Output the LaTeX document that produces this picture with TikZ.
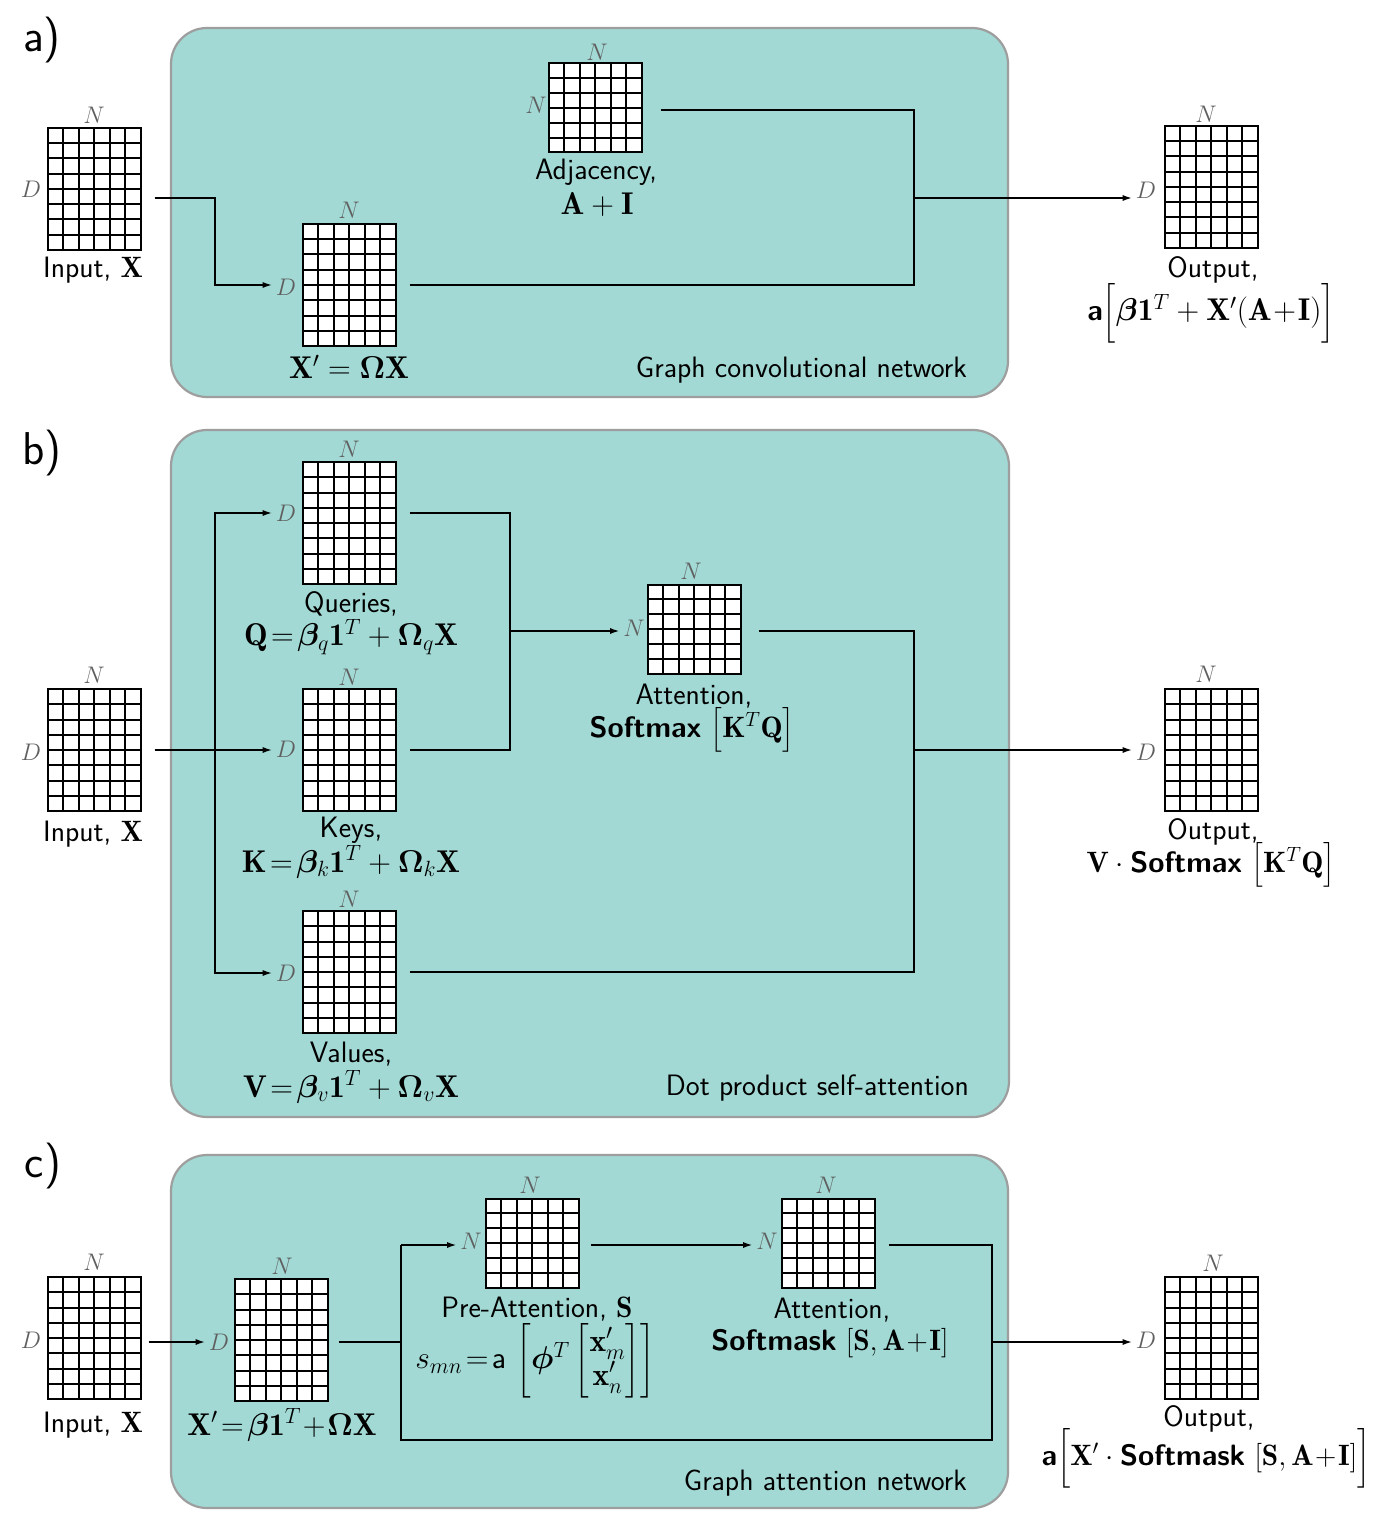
\RequirePackage{fix-cm}
\documentclass[tikz,border=0pt]{standalone}
\usepackage{amsmath}
\usepackage{bm}
\usepackage{fontspec}
\usetikzlibrary{calc,arrows.meta}
\definecolor{panelfill}{RGB}{162,217,212}
\definecolor{panelline}{RGB}{158,158,158}
\definecolor{dimgray}{RGB}{95,95,95}
\tikzset{
  panel/.style={draw=panelline, fill=panelfill, line width=2.2pt, rounded corners=36pt, inner sep=0pt},
  gridbase/.style={draw=black, line width=2pt, fill=white, inner sep=0pt, minimum width=93pt},
  matDN/.style={gridbase, minimum height=122pt, path picture={
     \foreach \k in {1,...,5}{\draw[line width=2pt] ($(path picture bounding box.south west)!\k/6!(path picture bounding box.south east)$) -- ($(path picture bounding box.north west)!\k/6!(path picture bounding box.north east)$);}
     \foreach \k in {1,...,7}{\draw[line width=2pt] ($(path picture bounding box.south west)!\k/8!(path picture bounding box.north west)$) -- ($(path picture bounding box.south east)!\k/8!(path picture bounding box.north east)$);}
  }},
  matNN/.style={gridbase, minimum height=89pt, path picture={
     \foreach \k in {1,...,5}{\draw[line width=2pt] ($(path picture bounding box.south west)!\k/6!(path picture bounding box.south east)$) -- ($(path picture bounding box.north west)!\k/6!(path picture bounding box.north east)$);}
     \foreach \k in {1,...,5}{\draw[line width=2pt] ($(path picture bounding box.south west)!\k/6!(path picture bounding box.north west)$) -- ($(path picture bounding box.south east)!\k/6!(path picture bounding box.north east)$);}
  }},
  dlab/.style={font=\fontsize{24}{28}\selectfont, text=dimgray, inner sep=3pt},
  txt/.style={font=\sffamily\fontsize{29.5}{34}\selectfont, inner sep=0pt},
  fml/.style={font=\sffamily\fontsize{31.5}{36}\selectfont, inner sep=0pt},
  smx/.style={font=\sffamily\fontsize{29.5}{41}\selectfont, inner sep=0pt},
  conn/.style={line width=2.2pt},
  arr/.style={conn, -{Latex[length=10pt,width=6pt]}},
  plab/.style={font=\sffamily\fontsize{46}{50}\selectfont, inner sep=0pt}
}
\newcommand{\swd}[1]{\text{\fontsize{29.5}{34}\selectfont\sffamily\bfseries #1}}
\begin{document}
\begin{tikzpicture}[x=1pt,y=-1pt]
\useasboundingbox (0,0) rectangle (1384,1530);
\fill[white] (0,0) rectangle (1384,1530);

% ---------------- panels
\node[panel, minimum width=837pt, minimum height=369pt] (pa) at (589.5,212.5) {};
\node[panel, minimum width=838pt, minimum height=687pt] (pb) at (590,773.5) {};
\node[panel, minimum width=837pt, minimum height=353pt] (pc) at (589.5,1331.5) {};
\node[plab] (la) at (42,40) {a)};
\node[plab] (lb) at (42,453) {b)};
\node[plab] (lc) at (43,1166) {c)};
\node[txt, anchor=east] (ta) at (967,370) {Graph convolutional network};
\node[txt, anchor=east] (tb) at (969,1088) {Dot product self-attention};
\node[txt, anchor=east] (tc) at (967,1483) {Graph attention network};

% ---------------- panel a
\node[matDN] (inA) at (94,189) {};
\node[dlab] (inA-N) at (94,115) {$N$};
\node[dlab] (inA-D) at (31,189) {$D$};
\node[txt] (inA-t) at (93,270) {Input, $\mathbf{X}$};

\node[matDN] (xA) at (349,285) {};
\node[dlab] (xA-N) at (349,210) {$N$};
\node[dlab] (xA-D) at (286,287) {$D$};
\node[fml] (xA-t) at (349,367) {$\mathbf{X}'=\boldsymbol{\Omega}\mathbf{X}$};

\node[matNN] (adjA) at (595,108) {};
\node[dlab] (adjA-N) at (597,52) {$N$};
\node[dlab] (adjA-L) at (536,105) {$N$};
\node[txt] (adjA-t) at (596,172) {Adjacency,};
\node[fml] (adjA-f) at (597,205) {$\mathbf{A}+\mathbf{I}$};

\node[matDN] (outA) at (1211,187) {};
\node[dlab] (outA-N) at (1206,114) {$N$};
\node[dlab] (outA-D) at (1146,190) {$D$};
\node[txt] (outA-t) at (1213,270) {Output,};
\node[font=\sffamily\fontsize{31.5}{39}\selectfont, inner sep=0pt] (outA-f) at (1211,313) {$\swd{a}\Big[\boldsymbol{\beta}\mathbf{1}^T+\mathbf{X}'(\mathbf{A}\!+\!\mathbf{I})\Big]$};

\coordinate (ja) at (215,198);
\coordinate (jt) at (914,110);
\coordinate (jb) at (914,198);
\draw[arr] ($(inA.east|-ja)+(13,0)$) -- (ja) |- (xA-D.west|-xA);
\draw[conn] ($(adjA.east|-jt)+(18,0)$) -- (jt) -- (jb);
\draw[conn] ($(xA.east)+(13,0)$) -| (jb);
\draw[arr] (jb) -- (outA-D.west|-jb);

% ---------------- panel b
\node[matDN] (inB) at (94,750) {};
\node[dlab] (inB-N) at (94,675) {$N$};
\node[dlab] (inB-D) at (31,752) {$D$};
\node[txt] (inB-t) at (93,834) {Input, $\mathbf{X}$};

\node[matDN] (qB) at (349,523) {};
\node[dlab] (qB-N) at (349,449) {$N$};
\node[dlab] (qB-D) at (286,513) {$D$};
\node[txt] (qB-t) at (351,604) {Queries,};
\node[fml] (qB-f) at (351,637) {$\mathbf{Q}\!=\!\boldsymbol{\beta}_q\mathbf{1}^T+\boldsymbol{\Omega}_q\mathbf{X}$};

\node[matDN] (kB) at (349,750) {};
\node[dlab] (kB-N) at (349,677) {$N$};
\node[dlab] (kB-D) at (286,749) {$D$};
\node[txt] (kB-t) at (351,830) {Keys,};
\node[fml] (kB-f) at (351,862) {$\mathbf{K}\!=\!\boldsymbol{\beta}_k\mathbf{1}^T+\boldsymbol{\Omega}_k\mathbf{X}$};

\node[matDN] (vB) at (349,972) {};
\node[dlab] (vB-N) at (349,899) {$N$};
\node[dlab] (vB-D) at (286,973) {$D$};
\node[txt] (vB-t) at (351,1054) {Values,};
\node[fml] (vB-f) at (351,1087) {$\mathbf{V}\!=\!\boldsymbol{\beta}_v\mathbf{1}^T+\boldsymbol{\Omega}_v\mathbf{X}$};

\node[matNN] (attB) at (694,629) {};
\node[dlab] (attB-N) at (691,571) {$N$};
\node[dlab] (attB-L) at (634,628) {$N$};
\node[txt] (attB-t) at (694,696) {Attention,};
\node[smx] (attB-f) at (692,730) {\textbf{Softmax} $\big[\mathbf{K}^T\mathbf{Q}\big]$};

\node[matDN] (outB) at (1211,750) {};
\node[dlab] (outB-N) at (1206,674) {$N$};
\node[dlab] (outB-D) at (1146,752) {$D$};
\node[txt] (outB-t) at (1213,832) {Output,};
\node[smx] (outB-f) at (1211,865) {$\mathbf{V}\cdot{}$\textbf{Softmax} $\big[\mathbf{K}^T\mathbf{Q}\big]$};

\coordinate (bj) at (215,750);
\coordinate (bq) at (510,513);
\coordinate (bk) at (510,750);
\coordinate (bm) at (510,631);
\coordinate (bo) at (914,750);
\draw[arr] ($(inB.east|-bj)+(13,0)$) -- (kB-D.west|-bj);
\draw[arr] (bj) |- (qB-D.west|-bq);
\draw[arr] (bj) |- (vB-D.west);
\draw[conn] ($(qB.east|-bq)+(13,0)$) -- (bq) -- (bk) -- ($(kB.east|-bk)+(13,0)$);
\draw[arr] (bm) -- (attB-L.west|-bm);
\draw[conn] ($(attB.east|-bm)+(17,0)$) -| (bo);
\draw[conn] ($(vB.east)+(13,0)$) -| (bo);
\draw[arr] (bo) -- (outB-D.west|-bo);

% ---------------- panel c
\node[matDN] (inC) at (94,1338) {};
\node[dlab] (inC-N) at (94,1262) {$N$};
\node[dlab] (inC-D) at (31,1340) {$D$};
\node[txt] (inC-t) at (93,1425) {Input, $\mathbf{X}$};

\node[matDN] (xC) at (281,1340) {};
\node[dlab] (xC-N) at (282,1266) {$N$};
\node[dlab] (xC-D) at (219,1342) {$D$};
\node[fml] (xC-t) at (282,1425) {$\mathbf{X}'\!=\!\boldsymbol{\beta}\mathbf{1}^T\!+\!\boldsymbol{\Omega}\mathbf{X}$};

\node[matNN] (preC) at (532,1243) {};
\node[dlab] (preC-N) at (530,1185) {$N$};
\node[dlab] (preC-L) at (471,1241) {$N$};
\node[txt] (preC-t) at (537,1309) {Pre-Attention, $\mathbf{S}$};
\node[fml] (preC-f) at (535,1361) {$s_{mn}\!=\!\mathsf{a}\,\left[\boldsymbol{\phi}^T\begin{bmatrix}\mathbf{x}'_m\\[-2pt] \mathbf{x}'_n\end{bmatrix}\right]$};

\node[matNN] (attC) at (828,1243) {};
\node[dlab] (attC-N) at (826,1185) {$N$};
\node[dlab] (attC-L) at (767,1241) {$N$};
\node[txt] (attC-t) at (832,1310) {Attention,};
\node[txt] (attC-f) at (830,1343) {\textbf{Softmask} $[\mathbf{S},\mathbf{A}\!+\!\mathbf{I}]$};

\node[matDN] (outC) at (1211,1338) {};
\node[dlab] (outC-N) at (1213,1263) {$N$};
\node[dlab] (outC-D) at (1146,1340) {$D$};
\node[txt] (outC-t) at (1209,1419) {Output,};
\node[font=\sffamily\fontsize{29.5}{32}\selectfont, inner sep=0pt] (outC-f) at (1206,1458) {$\textsf{\bfseries a}\Big[\mathbf{X}'\cdot{}$\textbf{Softmask} $[\mathbf{S},\mathbf{A}\!+\!\mathbf{I}]\Big]$};

\coordinate (cl) at (401,1342);
\coordinate (ct) at (401,1245);
\coordinate (cb) at (401,1440);
\coordinate (cr) at (992,1342);
\coordinate (crt) at (992,1245);
\draw[arr] ($(inC.east|-cl)+(7,0)$) -- (xC-D.west|-cl);
\draw[conn] ($(xC.east|-cl)+(10,0)$) -- (cl);
\draw[conn] (ct) -- (cb) -| (cr);
\draw[arr] (ct) -- (preC-L.west|-ct);
\draw[arr] ($(preC.east|-ct)+(11,0)$) -- (attC-L.west|-ct);
\draw[conn] ($(attC.east|-crt)+(13,0)$) -- (crt) -- (cr);
\draw[arr] (cr) -- (outC-D.west|-cr);
\end{tikzpicture}
\end{document}
